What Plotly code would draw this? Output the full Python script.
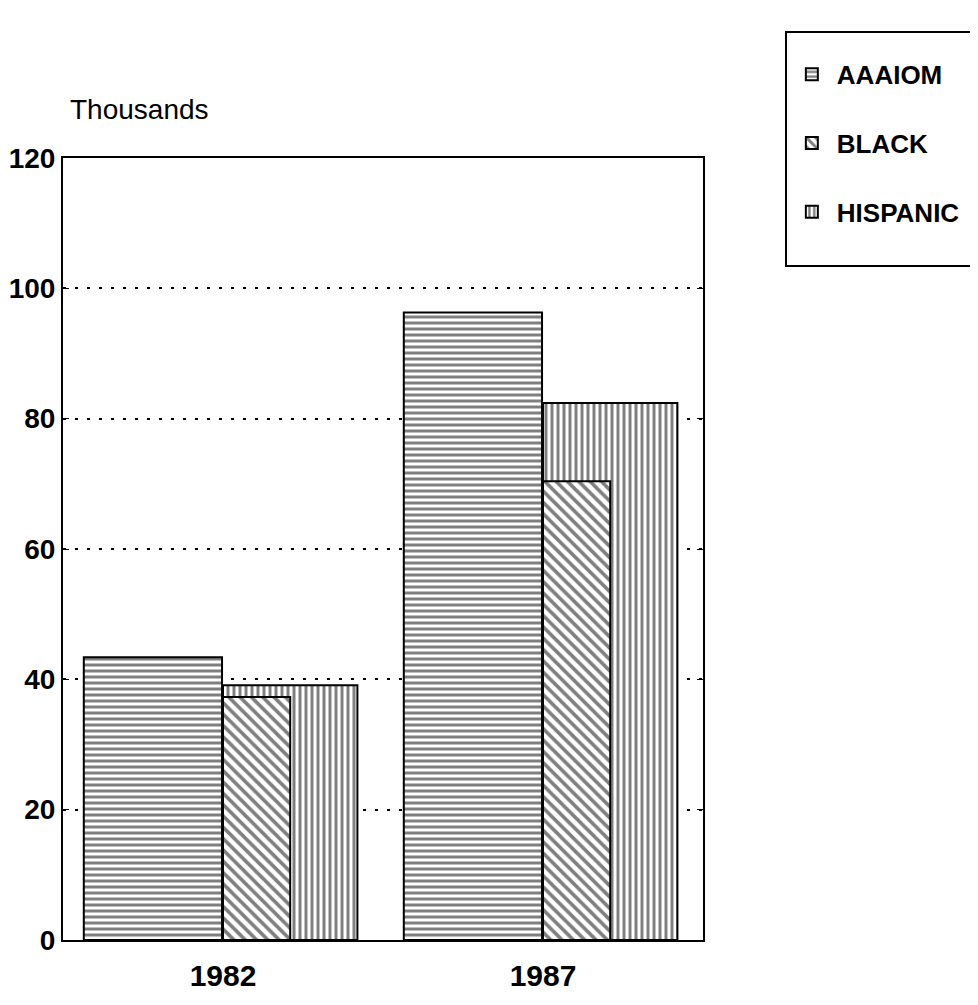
import plotly.graph_objects as go

# values (thousands)
years = ['1982', '1987']
year_pos = [0, 1]
aaaiom = [43.4, 96.3]
black = [37.3, 70.4]
hispanic = [39.1, 82.4]
y_ticks = [0, 20, 40, 60, 80, 100, 120]

FONT = 'Liberation Sans, Arial'

outline = dict(color='black', width=2)

fig = go.Figure()

# AAAIOM on the left half of each year slot
fig.add_trace(go.Bar(
    name='AAAIOM', x=year_pos, y=aaaiom,
    offset=-0.435, width=0.432,
    marker=dict(color='white', line=outline,
                pattern=dict(shape='-', fgcolor='black', bgcolor='white',
                             size=6, solidity=0.5)),
    legendgroup='a', legendrank=1,
))

# Hispanic sits behind the Black bar, full right half
fig.add_trace(go.Bar(
    name='HISPANIC', x=year_pos, y=hispanic,
    offset=0, width=0.42,
    marker=dict(color='white', line=outline,
                pattern=dict(shape='|', fgcolor='black', bgcolor='white',
                             size=6, solidity=0.5)),
    legendgroup='c', legendrank=3,
))

# Black drawn last so it is in front
fig.add_trace(go.Bar(
    name='BLACK', x=year_pos, y=black,
    offset=0, width=0.21,
    marker=dict(color='white', line=outline,
                pattern=dict(shape='\\', fgcolor='black', bgcolor='white',
                             size=8, solidity=0.45)),
    legendgroup='b', legendrank=2,
))

fig.add_annotation(
    text='Thousands', xref='paper', yref='paper',
    x=0.008, y=1.062, xanchor='left', yanchor='middle',
    showarrow=False, font=dict(family=FONT, size=28, color='black'),
)

# legend frame drawn separately so it can be taller than the entries
fig.add_shape(
    type='rect', xref='paper', yref='paper',
    x0=1.1297, x1=1.427, y0=0.862, y1=1.161,
    line=dict(color='black', width=2), fillcolor='rgba(0,0,0,0)',
)

# page body adds 8px, so the figure is drawn 8px smaller and shifted
fig.update_layout(
    width=970, height=997,
    paper_bgcolor='white', plot_bgcolor='white',
    barmode='overlay',
    margin=dict(l=55, r=275, t=150, b=65),
    font=dict(family=FONT, color='black'),
    showlegend=True,
    legend=dict(
        x=1.131, y=1.137, xanchor='left', yanchor='top',
        borderwidth=0, bgcolor='rgba(0,0,0,0)',
        traceorder='grouped', tracegroupgap=32, itemwidth=40,
        font=dict(family=FONT, size=26, weight='bold'),
    ),
    xaxis=dict(
        range=[-0.5, 1.5], tickvals=year_pos, ticktext=years,
        showgrid=False, zeroline=False, ticks='', automargin=False,
        showline=True, linecolor='black', linewidth=2, mirror=True,
        ticklabelstandoff=8,
        tickfont=dict(family=FONT, size=30, weight='bold'),
    ),
    yaxis=dict(
        range=[0, 120], tickvals=y_ticks, automargin=False,
        showgrid=True, gridcolor='black', gridwidth=2, griddash='3px,9px',
        zeroline=False, ticks='inside', ticklen=6, tickcolor='black',
        showline=True, linecolor='black', linewidth=2, mirror='ticks',
        tickfont=dict(family=FONT, size=28, weight='bold'),
    ),
)

fig.write_html('out.html')
